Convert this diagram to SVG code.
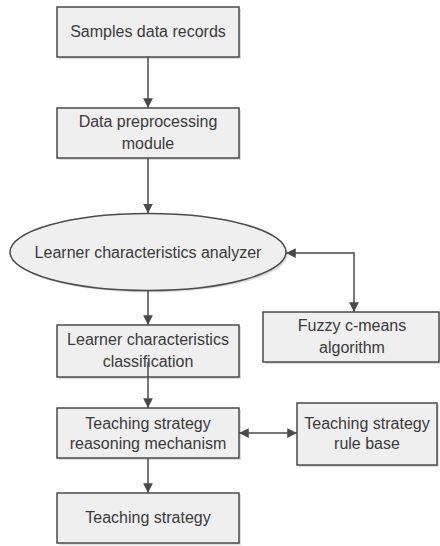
<svg xmlns="http://www.w3.org/2000/svg" width="440" height="546" viewBox="0 0 440 546">
<defs>
<style>
.box{fill:#efefef;stroke:#4a4a4a;stroke-width:1.5}
.sh{fill:#dcdcdc}
.t{font-family:"Liberation Sans",Arial,sans-serif;font-size:16px;fill:#3a3a3a;text-anchor:middle}
.c{fill:none;stroke:#4a4a4a;stroke-width:1.5}
</style>
<marker id="ah" viewBox="0 0 10 10" refX="10" refY="5" markerWidth="6.5" markerHeight="6.5" orient="auto-start-reverse" markerUnits="strokeWidth">
<path d="M0,0 L10,5 L0,10 z" fill="#4a4a4a"/>
</marker>
</defs>
<rect width="440" height="546" fill="#ffffff"/>
<g id="n1">
<rect class="sh" x="59" y="9" width="182" height="50"/>
<rect class="box" x="57" y="7" width="182" height="50"/>
<text class="t" x="148" y="37">Samples data records</text>
</g>
<g id="n2">
<rect class="sh" x="59" y="110" width="182" height="50"/>
<rect class="box" x="57" y="108" width="182" height="50"/>
<text class="t" x="148" y="127">Data preprocessing</text>
<text class="t" x="148" y="149">module</text>
</g>
<g id="n3">
<ellipse class="sh" cx="150" cy="254" rx="138" ry="38.5"/>
<ellipse class="box" cx="148" cy="252" rx="138" ry="38.5"/>
<text class="t" x="148" y="258">Learner characteristics analyzer</text>
</g>
<g id="n4">
<rect class="sh" x="265" y="314" width="176" height="50"/>
<rect class="box" x="263" y="312" width="176" height="50"/>
<text class="t" x="352" y="331">Fuzzy c-means</text>
<text class="t" x="352" y="353">algorithm</text>
</g>
<g id="n5">
<rect class="sh" x="59" y="327" width="182" height="52"/>
<rect class="box" x="57" y="325" width="182" height="52"/>
<text class="t" x="148" y="345">Learner characteristics</text>
<text class="t" x="148" y="367">classification</text>
</g>
<g id="n6">
<rect class="sh" x="59" y="410" width="182" height="50"/>
<rect class="box" x="57" y="408" width="182" height="50"/>
<text class="t" x="148" y="429">Teaching strategy</text>
<text class="t" x="148" y="449">reasoning mechanism</text>
</g>
<g id="n7">
<rect class="sh" x="299" y="405" width="140" height="62"/>
<rect class="box" x="297" y="403" width="140" height="62"/>
<text class="t" x="367" y="429">Teaching strategy</text>
<text class="t" x="367" y="449">rule base</text>
</g>
<g id="n8">
<rect class="sh" x="59" y="495" width="182" height="50"/>
<rect class="box" x="57" y="493" width="182" height="50"/>
<text class="t" x="148" y="523">Teaching strategy</text>
</g>
<g id="connectors">
<line class="c" x1="148" y1="57" x2="148" y2="108" marker-end="url(#ah)"/>
<line class="c" x1="148" y1="158" x2="148" y2="213.5" marker-end="url(#ah)"/>
<line class="c" x1="148" y1="290.5" x2="148" y2="325" marker-end="url(#ah)"/>
<line class="c" x1="148" y1="362" x2="148" y2="408" marker-end="url(#ah)"/>
<line class="c" x1="148" y1="458" x2="148" y2="493" marker-end="url(#ah)"/>
<path class="c" d="M286,253 H354 V312" marker-start="url(#ah)" marker-end="url(#ah)"/>
<line class="c" x1="239" y1="433" x2="297" y2="433" marker-start="url(#ah)" marker-end="url(#ah)"/>
</g>
</svg>
